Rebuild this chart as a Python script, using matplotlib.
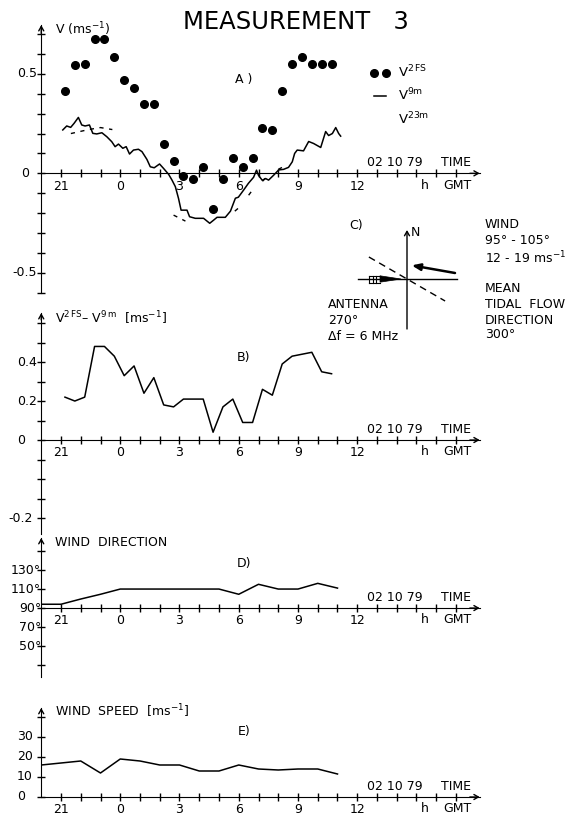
import numpy as np
import matplotlib.pyplot as plt
from matplotlib.lines import Line2D
from matplotlib.patches import Polygon
from matplotlib.transforms import blended_transform_factory

plt.rcParams['font.family'] = ['DejaVu Sans']
plt.rcParams['font.size'] = 9
plt.rcParams['mathtext.default'] = 'regular'

# time axis: hours after 21 GMT on 02 10 79
hour_ticks = [0, 3, 6, 9, 12, 15]
hour_labels = ['21', '0', '3', '6', '9', '12']

# A) half-hourly V2FS and B) V2FS - V9m
t_half = np.arange(28) * 0.5 + 0.2
v2fs = [0.415, 0.544, 0.548, 0.675, 0.675, 0.584, 0.467, 0.429, 0.350, 0.348,
        0.149, 0.063, -0.012, -0.027, 0.032, -0.180, -0.030, 0.078, 0.030, 0.078,
        0.228, 0.218, 0.414, 0.550, 0.586, 0.550, 0.550, 0.550]
v_diff = [0.22, 0.20, 0.22, 0.48, 0.48, 0.43, 0.33, 0.38, 0.24, 0.32,
          0.18, 0.17, 0.21, 0.21, 0.21, 0.04, 0.17, 0.21, 0.09, 0.09,
          0.26, 0.23, 0.39, 0.43, 0.44, 0.45, 0.35, 0.34]

# V9m current meter trace
v9m_t = [0.09, 0.29, 0.49, 0.66, 0.88, 1.05, 1.22, 1.44, 1.61, 1.81,
         2.07, 2.32, 2.57, 2.74, 2.91, 3.13, 3.30, 3.47, 3.67, 3.92,
         4.10, 4.35, 4.52, 4.72, 4.99, 5.19, 5.45, 5.62, 5.79, 5.95,
         6.08, 6.38, 6.51, 6.80, 7.22, 7.53, 7.73, 7.90, 8.32, 8.58,
         8.83, 8.98, 9.24, 9.49, 9.75, 9.90, 10.00, 10.19, 10.36, 10.51,
         10.76, 11.02, 11.27, 11.52, 11.71, 11.83, 11.96, 12.28, 12.54, 12.79,
         13.15, 13.40, 13.55, 13.74, 13.91, 14.06, 14.16]
v9m = [0.218, 0.238, 0.231, 0.251, 0.281, 0.243, 0.238, 0.243, 0.201, 0.198,
       0.204, 0.184, 0.159, 0.134, 0.147, 0.126, 0.134, 0.097, 0.117, 0.121,
       0.109, 0.070, 0.033, 0.028, 0.047, 0.025, -0.005, -0.034, -0.067, -0.126,
       -0.185, -0.185, -0.218, -0.226, -0.226, -0.251, -0.235, -0.221, -0.221, -0.190,
       -0.125, -0.120, -0.085, -0.050, -0.020, 0.016, -0.010, -0.035, -0.026, -0.034,
       -0.010, 0.017, 0.020, 0.030, 0.058, 0.100, 0.117, 0.113, 0.160, 0.150,
       0.130, 0.210, 0.190, 0.200, 0.230, 0.200, 0.187]

# V23m, only fragments visible
v23m_t = [0.5, 1.4, 2.0, 2.6, np.nan, 5.7, 6.3, np.nan, 8.8, 9.1, np.nan,
          9.5, 9.65, np.nan, 10.2, 10.4, np.nan, 11.0, 11.2]
v23m = [0.20, 0.22, 0.23, 0.22, np.nan, -0.21, -0.24, np.nan, -0.19, -0.165, np.nan,
        -0.11, -0.09, np.nan, -0.04, -0.02, np.nan, 0.02, 0.03]

# D) and E) hourly wind
wind_t = list(range(-1, 15))
wind_dir = [94, 94, 99.5, 104.5, 110, 110, 110, 110, 110, 110, 104.5, 115, 110, 110, 116, 111]
wind_speed = [16, 17, 18, 12, 19, 18, 16, 16, 13, 13, 16, 14, 13.5, 14, 14, 11.5]

# C) directions (degrees)
tidal_dir = 300
wind_from = 100

W, H = 585, 815
fig = plt.figure(figsize=(W / 100, H / 100), dpi=100)
over = fig.add_axes([0, 0, 1, 1], zorder=5)
over.set_xlim(0, W)
over.set_ylim(H, 0)
over.axis('off')

X0, DX = 61.0, 19.75
T_LO, T_HI, T_END = -1.0, 21.6, 21.2
arrow = dict(arrowstyle='->,head_length=0.35,head_width=0.2', lw=1, color='k',
             shrinkA=0, shrinkB=0)


def t_of(px):
    return (px - X0) / DX


def panel(ylo, yhi, py_lo, py_hi, base, ybot, ytip, yticks):
    left = X0 + DX * T_LO
    ax = fig.add_axes([left / W, 1 - py_lo / H, DX * (T_HI - T_LO) / W, (py_lo - py_hi) / H])
    ax.set_xlim(T_LO, T_HI)
    ax.set_ylim(ylo, yhi)
    ax.patch.set_visible(False)
    ax.spines[['top', 'right']].set_visible(False)
    ax.spines['bottom'].set_position(('data', base))
    ax.spines['bottom'].set_bounds(T_LO, T_END)
    ax.spines['left'].set_bounds(ybot, ytip)
    ax.set_xticks(hour_ticks, hour_labels)
    ax.set_xticks(np.arange(1, 21), minor=True)
    ax.set_yticks(yticks, [''] * len(yticks))
    ax.tick_params(which='both', direction='inout', length=6, width=1, pad=1.5, labelsize=9)
    ax.annotate('', xy=(T_END, base), xytext=(T_END - 0.5, base), arrowprops=arrow)
    ax.annotate('', xy=(T_LO, ytip), xytext=(T_LO, ytip - (yhi - ylo) * 0.03), arrowprops=arrow)
    for txt, x, dy in [('02 10 79', t_of(395), 7.5), ('TIME', t_of(456), 7.5),
                       ('h', t_of(425), -8.5), ('GMT', t_of(457), -8.5)]:
        ax.annotate(txt, (x, base), xytext=(0, dy), textcoords='offset points',
                    ha='center', va='center')
    return ax


def ylab(ax, labels):
    tr = blended_transform_factory(over.transData, ax.transData)
    for val, txt, px, ha in labels:
        ax.text(px, val, txt, transform=tr, ha=ha, va='center')


# ---- A) current velocities
axA = panel(-0.64, 0.76, 300.7, 22.1, 0, -0.6, 0.745, np.arange(-6, 8) / 10)
axA.plot(t_half, v2fs, 'o', color='k', ms=5.5, ls='none')
axA.plot(v9m_t, v9m, color='k', lw=1.1)
axA.plot(v23m_t, v23m, color='k', lw=1.0, ls=(0, (3, 4)))
ylab(axA, [(0.5, '0.5', 37, 'right'), (0, '0', 21, 'left'), (-0.5, '-0.5', 37, 'right')])
handles = [Line2D([], [], ls='none', marker='o', ms=5.5, color='k'),
           Line2D([], [], color='k', lw=1.1),
           Line2D([], [], color='none')]
axA.legend(handles, ['V$^{2\\,FS}$', 'V$^{9m}$', 'V$^{23m}$'], numpoints=2,
           loc='upper left', bbox_to_anchor=(370, 64), bbox_transform=over.transData,
           frameon=False, handlelength=1.5, handletextpad=0.6, labelspacing=0.5,
           borderpad=0, borderaxespad=0, fontsize=9.5)

# ---- B) difference (the -0.2 label sits lower on the original drawing)
axB = panel(-0.5, 0.67, 537.5, 309.4, 0, -0.48, 0.651, np.arange(-4, 7) / 10)
axB.plot(t_half, v_diff, color='k', lw=1.1)
ylab(axB, [(0.4, '0.4', 17, 'left'), (0.2, '0.2', 17, 'left'), (0, '0', 17, 'left'),
           (-0.4, '-0.2', 33, 'right')])

# ---- D) wind direction
axD = panel(15, 165, 679.3, 536.8, 90, 17.4, 163.7, np.arange(30, 151, 20))
axD.plot(wind_t, wind_dir, color='k', lw=1.1)
ylab(axD, [(v, f'{v}°', 41, 'right') for v in [130, 110, 90, 70, 50]])

# ---- E) wind speed
axE = panel(-6, 46, 809, 705, 0, 0, 44.5, [0, 10, 20, 30, 40])
axE.plot(wind_t, wind_speed, color='k', lw=1.1)
ylab(axE, [(v, str(v), 17, 'left') for v in [30, 20, 10, 0]])

# ---- titles and panel texts
over.text(296, 22, 'MEASUREMENT   3', fontsize=17.5, ha='center', va='center')
for txt, y in [('V (ms$^{-1}$)', 29), ('V$^{2\\,FS}$– V$^{9\\,m}$  [ms$^{-1}$]', 318),
               ('WIND  DIRECTION', 543), ('WIND  SPEED  [ms$^{-1}$]', 711)]:
    over.text(55, y, txt, ha='left', va='center')
for txt, y in [('A )', 79), ('B)', 357), ('D)', 563), ('E)', 732)]:
    over.text(244, y, txt, ha='center', va='center')

# ---- C) direction sketch
cx, cy = 407, 279


def pt(bearing, r, ox=0, oy=0):
    b = np.radians(bearing)
    return cx + ox + r * np.sin(b), cy + oy - r * np.cos(b)


over.text(356, 225, 'C)', ha='center', va='center')
over.annotate('', xy=pt(0, 49), xytext=pt(180, 50), arrowprops=arrow)
over.text(411, 233, 'N', ha='left', va='center')
x1, y1 = pt(270, 49)
x2, y2 = pt(90, 50)
over.plot([x1, x2], [y1, y2], color='k', lw=1)
x1, y1 = pt(tidal_dir, 44)
x2, y2 = pt(tidal_dir + 180, 44)
over.plot([x1, x2], [y1, y2], color='k', lw=1, ls=(0, (5, 3.5)))
over.annotate('', xy=pt(wind_from + 180, 44, 48, -6), xytext=pt(0, 0, 48, -6),
              arrowprops=dict(arrowstyle='-|>,head_length=0.55,head_width=0.22',
                              lw=1.8, color='k', shrinkA=0, shrinkB=0))
over.add_patch(Polygon([(cx - 27, cy - 3.2), (cx - 6, cy), (cx - 27, cy + 3.2)],
                       closed=True, color='k', lw=0.5))
for dx in [-38, -34.5, -31]:
    over.plot([cx + dx, cx + dx], [cy - 3.5, cy + 3.5], color='k', lw=0.8)
over.plot([cx - 38, cx - 27], [cy - 3.5, cy - 3.5], color='k', lw=0.8)
over.plot([cx - 38, cx - 27], [cy + 3.5, cy + 3.5], color='k', lw=0.8)

for txt, y in [('WIND', 225), ('95° - 105°', 241), ('12 - 19 ms$^{-1}$', 258),
               ('MEAN', 288), ('TIDAL  FLOW', 304), ('DIRECTION', 320), ('300°', 335)]:
    over.text(485, y, txt, ha='left', va='center')
for txt, y in [('ANTENNA', 305), ('270°', 321), ('Δf = 6 MHz', 337)]:
    over.text(328, y, txt, ha='left', va='center')

fig.savefig('out.png', dpi=100)
